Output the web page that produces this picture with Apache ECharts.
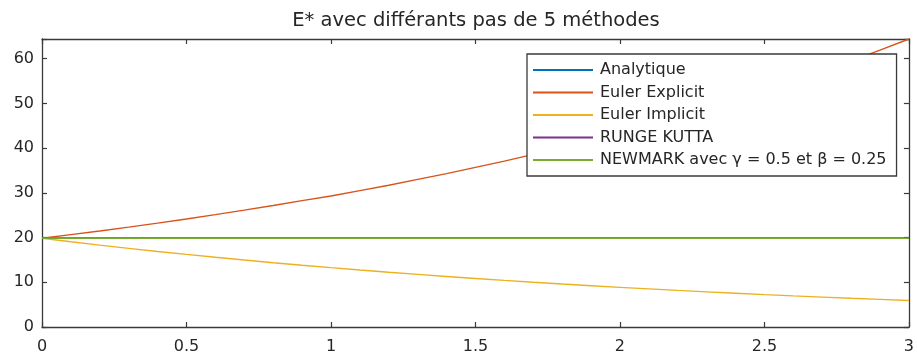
<!DOCTYPE html>
<html>
<head>
<meta charset="utf-8">
<script src="https://cdn.jsdelivr.net/npm/echarts@6/dist/echarts.min.js"></script>
<style>html,body{margin:0;padding:0;background:#fff}#c{width:917px;height:358px}</style>
</head>
<body>
<div id="c"></div>
<script>
var xValues = [0,0.1,0.2,0.3,0.4,0.5,0.6,0.7,0.8,0.9,1.0,1.1,1.2,1.3,1.4,1.5,1.6,1.7,1.8,1.9,2.0,2.1,2.2,2.3,2.4,2.5,2.6,2.7,2.8,2.9,3.0];
var analytique = [19.85,19.85,19.85,19.85,19.85,19.85,19.85,19.85,19.85,19.85,19.85,19.85,19.85,19.85,19.85,19.85,19.85,19.85,19.85,19.85,19.85,19.85,19.85,19.85,19.85,19.85,19.85,19.85,19.85,19.85,19.85];
var eulerExplicit = [19.85,20.65,21.47,22.33,23.22,24.15,25.12,26.13,27.17,28.26,29.3,30.5,31.7,33.0,34.3,35.7,37.1,38.6,40.2,41.8,43.5,45.2,47.0,48.9,50.9,52.9,55.0,57.2,59.5,61.9,64.4];
var eulerImplicit = [19.85,19.07,18.31,17.59,16.89,16.23,15.59,14.97,14.38,13.81,13.27,12.74,12.24,11.76,11.29,10.85,10.42,10.01,9.61,9.23,8.87,8.52,8.18,7.86,7.55,7.25,6.96,6.69,6.42,6.17,5.93];
var rungeKutta = [19.85,19.85,19.85,19.85,19.85,19.85,19.85,19.85,19.85,19.85,19.85,19.85,19.85,19.85,19.85,19.85,19.85,19.85,19.85,19.85,19.85,19.85,19.85,19.85,19.85,19.85,19.85,19.85,19.85,19.85,19.85];
var newmark = [19.85,19.85,19.85,19.85,19.85,19.85,19.85,19.85,19.85,19.85,19.85,19.85,19.85,19.85,19.85,19.85,19.85,19.85,19.85,19.85,19.85,19.85,19.85,19.85,19.85,19.85,19.85,19.85,19.85,19.85,19.85];
var seriesNames = ['Analytique','Euler Explicit','Euler Implicit','RUNGE KUTTA','NEWMARK avec \u03b3 = 0.5 et \u03b2 = 0.25'];
var seriesColors = ['#0072BD','#D95319','#EDB120','#7E2F8E','#77AC30'];
var titleText = 'E* avec diff\u00e9rants pas de 5 m\u00e9thodes';

function pairs(ys){ return xValues.map(function(x,i){ return [x, ys[i]]; }); }
var allData = [analytique, eulerExplicit, eulerImplicit, rungeKutta, newmark];
var yMax = Math.max.apply(null, eulerExplicit);

var FONT = 'DejaVu Sans, Verdana, sans-serif';
var AX = '#3a3a3a';
var TXT = '#262626';
var chart = echarts.init(document.getElementById('c'), null, {renderer:'canvas'});
chart.setOption({
  animation:false,
  backgroundColor:'#fff',
  title:{text:titleText, left:471, top:6, textAlign:'center',
    textStyle:{fontFamily:FONT, fontSize:19.5, fontWeight:'normal', color:TXT}},
  grid:{left:42, right:7, top:39, bottom:31, containLabel:false},
  legend:{orient:'vertical', left:527, top:54, padding:[7,10,7,6], itemGap:4.5,
    borderColor:AX, borderWidth:1.3, backgroundColor:'#fff',
    itemWidth:60, itemHeight:2, icon:'rect',
    textStyle:{fontFamily:FONT, fontSize:16, color:TXT, lineHeight:18, padding:[0,0,0,2]},
    data:seriesNames},
  xAxis:[
    {type:'value', min:0, max:3, interval:0.5, position:'bottom',
     axisLine:{onZero:false, lineStyle:{color:AX, width:1.3}},
     axisTick:{inside:true, length:5, lineStyle:{color:AX, width:1.2}},
     axisLabel:{fontFamily:FONT, fontSize:16, color:TXT, margin:12},
     splitLine:{show:false}},
    {type:'value', min:0, max:3, interval:0.5, position:'top',
     axisLine:{onZero:false, lineStyle:{color:AX, width:1.3}},
     axisTick:{inside:true, length:5, lineStyle:{color:AX, width:1.2}},
     axisLabel:{show:false}, splitLine:{show:false}}
  ],
  yAxis:[
    {type:'value', min:0, max:yMax, interval:10, position:'left',
     axisLine:{show:true, onZero:false, lineStyle:{color:AX, width:1.3}},
     axisTick:{show:true, inside:true, length:5, lineStyle:{color:AX, width:1.2}},
     axisLabel:{fontFamily:FONT, fontSize:16, color:TXT, margin:8,
       formatter:function(v){ return (Math.abs(v % 10) < 1e-9) ? String(v) : ''; }},
     splitLine:{show:false}},
    {type:'value', min:0, max:yMax, interval:10, position:'right',
     axisLine:{show:true, onZero:false, lineStyle:{color:AX, width:1.3}},
     axisTick:{show:true, inside:true, length:5, lineStyle:{color:AX, width:1.2}},
     axisLabel:{show:false}, splitLine:{show:false}}
  ],
  series: allData.map(function(d,i){
    return {name:seriesNames[i], type:'line', data:pairs(d), showSymbol:false, symbol:'none',
      color:seriesColors[i], lineStyle:{width:1.4, color:seriesColors[i]}, z:2+i};
  })
});
</script>
</body>
</html>
